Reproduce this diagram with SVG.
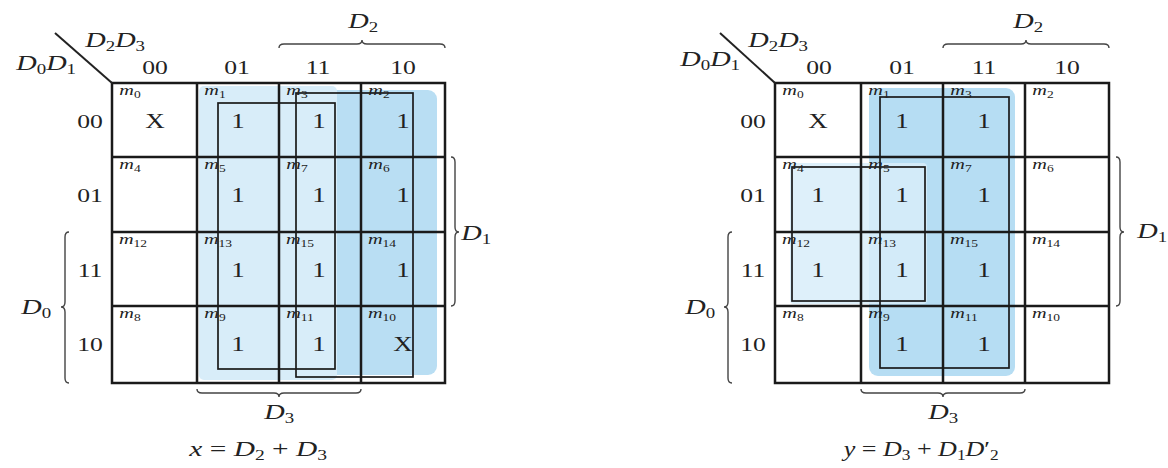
<svg xmlns="http://www.w3.org/2000/svg" width="1168" height="468" viewBox="0 0 1168 468">
<style>
text{fill:#222;font-family:"Liberation Serif","DejaVu Serif",serif;text-anchor:middle;transform-box:fill-box;transform-origin:center;transform:scaleX(1.35)}
.m{font-style:italic;font-size:15px}
.s{font-size:10px;font-style:normal}
.v{font-size:20px}
.h{font-size:19px}
.L{font-style:italic;font-size:21px}
.ls{font-size:14px;font-style:normal}
.eq{font-size:21px}
.grid{fill:none;stroke:#1a1a1a;stroke-width:2.5}
.loop{fill:none;stroke:#1a1a1a;stroke-width:1.7}
.br{fill:none;stroke:#444;stroke-width:1.4}
</style>
<rect width="1168" height="468" fill="#fff"/>

<!-- LEFT MAP -->
<g id="mapX">
<g id="mapX-shading">
<rect x="281" y="90" width="156" height="285" rx="9" fill="#b9def3"/>
<rect x="199" y="86" width="138" height="294" rx="5" fill="#d8edf9"/>
</g>
<g id="mapX-grid">
<rect class="grid" x="112" y="83" width="333" height="300"/>
<path class="grid" d="M197,83V383M279,83V383M361,83V383M112,157H445M112,232H445M112,306H445"/>
</g>
<g id="mapX-loops">
<rect class="loop" x="218" y="103" width="117" height="266"/>
<rect class="loop" x="296" y="93" width="117" height="284"/>
</g>
<g id="mapX-headers">
<line x1="55" y1="33" x2="112" y2="83" stroke="#222" stroke-width="2"/>
<text class="L" x="46" y="70">D<tspan class="ls" dy="4">0</tspan><tspan dy="-4">D</tspan><tspan class="ls" dy="4">1</tspan></text>
<text class="L" x="115" y="47">D<tspan class="ls" dy="4">2</tspan><tspan dy="-4">D</tspan><tspan class="ls" dy="4">3</tspan></text>
<text class="h" x="155" y="74">00</text>
<text class="h" x="237" y="74">01</text>
<text class="h" x="318" y="74">11</text>
<text class="h" x="403" y="74">10</text>
<text class="h" x="90" y="128">00</text>
<text class="h" x="90" y="202">01</text>
<text class="h" x="90" y="277">11</text>
<text class="h" x="90" y="351">10</text>
</g>
<g id="mapX-braces">
<path class="br" d="M279,48 Q279,44 284,44 L357,44 Q362,44 362,40 Q362,44 367,44 L440,44 Q445,44 445,48"/>
<text class="L" x="363" y="28">D<tspan class="ls" dy="4">2</tspan></text>
<path class="br" d="M451,157 Q455,157 455,162 L455,227 Q455,232 459,232 Q455,232 455,237 L455,301 Q455,306 451,306"/>
<text class="L" x="476" y="240">D<tspan class="ls" dy="4">1</tspan></text>
<path class="br" d="M69,232 Q65,232 65,237 L65,302 Q65,307 61,307 Q65,307 65,312 L65,378 Q65,383 69,383"/>
<text class="L" x="36" y="314">D<tspan class="ls" dy="4">0</tspan></text>
<path class="br" d="M197,389 Q197,393 202,393 L274,393 Q279,393 279,397 Q279,393 284,393 L356,393 Q361,393 361,389"/>
<text class="L" x="279" y="419">D<tspan class="ls" dy="4">3</tspan></text>
</g>
<g id="mapX-cells">
<text class="m" x="130" y="95">m<tspan class="s" dy="3">0</tspan></text>
<text class="m" x="215" y="95">m<tspan class="s" dy="3">1</tspan></text>
<text class="m" x="297" y="95">m<tspan class="s" dy="3">3</tspan></text>
<text class="m" x="379" y="95">m<tspan class="s" dy="3">2</tspan></text>
<text class="m" x="130" y="169">m<tspan class="s" dy="3">4</tspan></text>
<text class="m" x="215" y="169">m<tspan class="s" dy="3">5</tspan></text>
<text class="m" x="297" y="169">m<tspan class="s" dy="3">7</tspan></text>
<text class="m" x="379" y="169">m<tspan class="s" dy="3">6</tspan></text>
<text class="m" x="133" y="244">m<tspan class="s" dy="3">12</tspan></text>
<text class="m" x="218" y="244">m<tspan class="s" dy="3">13</tspan></text>
<text class="m" x="300" y="244">m<tspan class="s" dy="3">15</tspan></text>
<text class="m" x="382" y="244">m<tspan class="s" dy="3">14</tspan></text>
<text class="m" x="130" y="318">m<tspan class="s" dy="3">8</tspan></text>
<text class="m" x="215" y="318">m<tspan class="s" dy="3">9</tspan></text>
<text class="m" x="300" y="318">m<tspan class="s" dy="3">11</tspan></text>
<text class="m" x="382" y="318">m<tspan class="s" dy="3">10</tspan></text>
<text class="v" x="155" y="128">X</text>
<text class="v" x="238" y="128">1</text>
<text class="v" x="319" y="128">1</text>
<text class="v" x="403" y="128">1</text>
<text class="v" x="238" y="202">1</text>
<text class="v" x="319" y="202">1</text>
<text class="v" x="403" y="202">1</text>
<text class="v" x="238" y="277">1</text>
<text class="v" x="319" y="277">1</text>
<text class="v" x="403" y="277">1</text>
<text class="v" x="238" y="351">1</text>
<text class="v" x="319" y="351">1</text>
<text class="v" x="403" y="351">X</text>
</g>
<text class="eq" x="258" y="456" style="transform:scaleX(1.4)"><tspan font-style="italic">x</tspan> = <tspan font-style="italic">D</tspan><tspan font-size="14" dy="4">2</tspan><tspan dy="-4"> + </tspan><tspan font-style="italic">D</tspan><tspan font-size="14" dy="4">3</tspan></text>
</g>

<!-- RIGHT MAP -->
<g id="mapY">
<g id="mapY-shading">
<rect x="869" y="88" width="146" height="288" rx="9" fill="#b6ddf3"/>
<rect x="790" y="163" width="137" height="141" rx="4" fill="#d8edf9" fill-opacity="0.85"/>
</g>
<g id="mapY-grid">
<rect class="grid" x="775" y="83" width="334" height="300"/>
<path class="grid" d="M861,83V383M943,83V383M1025,83V383M775,157H1109M775,232H1109M775,306H1109"/>
</g>
<g id="mapY-loops">
<rect class="loop" x="880" y="97" width="129" height="271"/>
<rect class="loop" x="792" y="167" width="133" height="134"/>
</g>
<g id="mapY-headers">
<line x1="720" y1="33" x2="775" y2="83" stroke="#222" stroke-width="2"/>
<text class="L" x="710" y="66">D<tspan class="ls" dy="4">0</tspan><tspan dy="-4">D</tspan><tspan class="ls" dy="4">1</tspan></text>
<text class="L" x="778" y="47">D<tspan class="ls" dy="4">2</tspan><tspan dy="-4">D</tspan><tspan class="ls" dy="4">3</tspan></text>
<text class="h" x="819" y="74">00</text>
<text class="h" x="902" y="74">01</text>
<text class="h" x="984" y="74">11</text>
<text class="h" x="1067" y="74">10</text>
<text class="h" x="753" y="128">00</text>
<text class="h" x="753" y="202">01</text>
<text class="h" x="753" y="277">11</text>
<text class="h" x="753" y="351">10</text>
</g>
<g id="mapY-braces">
<path class="br" d="M943,48 Q943,44 948,44 L1021,44 Q1026,44 1026,40 Q1026,44 1031,44 L1104,44 Q1109,44 1109,48"/>
<text class="L" x="1028" y="28">D<tspan class="ls" dy="4">2</tspan></text>
<path class="br" d="M1116,157 Q1120,157 1120,162 L1120,227 Q1120,232 1124,232 Q1120,232 1120,237 L1120,301 Q1120,306 1116,306"/>
<text class="L" x="1152" y="238">D<tspan class="ls" dy="4">1</tspan></text>
<path class="br" d="M732,232 Q728,232 728,237 L728,302 Q728,307 724,307 Q728,307 728,312 L728,378 Q728,383 732,383"/>
<text class="L" x="700" y="314">D<tspan class="ls" dy="4">0</tspan></text>
<path class="br" d="M861,389 Q861,393 866,393 L938,393 Q943,393 943,397 Q943,393 948,393 L1020,393 Q1025,393 1025,389"/>
<text class="L" x="943" y="419">D<tspan class="ls" dy="4">3</tspan></text>
</g>
<g id="mapY-cells">
<text class="m" x="793" y="95">m<tspan class="s" dy="3">0</tspan></text>
<text class="m" x="879" y="95">m<tspan class="s" dy="3">1</tspan></text>
<text class="m" x="961" y="95">m<tspan class="s" dy="3">3</tspan></text>
<text class="m" x="1043" y="95">m<tspan class="s" dy="3">2</tspan></text>
<text class="m" x="793" y="169">m<tspan class="s" dy="3">4</tspan></text>
<text class="m" x="879" y="169">m<tspan class="s" dy="3">5</tspan></text>
<text class="m" x="961" y="169">m<tspan class="s" dy="3">7</tspan></text>
<text class="m" x="1043" y="169">m<tspan class="s" dy="3">6</tspan></text>
<text class="m" x="796" y="244">m<tspan class="s" dy="3">12</tspan></text>
<text class="m" x="882" y="244">m<tspan class="s" dy="3">13</tspan></text>
<text class="m" x="964" y="244">m<tspan class="s" dy="3">15</tspan></text>
<text class="m" x="1046" y="244">m<tspan class="s" dy="3">14</tspan></text>
<text class="m" x="793" y="318">m<tspan class="s" dy="3">8</tspan></text>
<text class="m" x="879" y="318">m<tspan class="s" dy="3">9</tspan></text>
<text class="m" x="964" y="318">m<tspan class="s" dy="3">11</tspan></text>
<text class="m" x="1046" y="318">m<tspan class="s" dy="3">10</tspan></text>
<text class="v" x="818" y="128">X</text>
<text class="v" x="902" y="128">1</text>
<text class="v" x="984" y="128">1</text>
<text class="v" x="818" y="202">1</text>
<text class="v" x="902" y="202">1</text>
<text class="v" x="984" y="202">1</text>
<text class="v" x="818" y="277">1</text>
<text class="v" x="902" y="277">1</text>
<text class="v" x="984" y="277">1</text>
<text class="v" x="902" y="351">1</text>
<text class="v" x="984" y="351">1</text>
</g>
<text class="eq" x="921" y="456" style="transform:scaleX(1.24)"><tspan font-style="italic">y</tspan> = <tspan font-style="italic">D</tspan><tspan font-size="14" dy="4">3</tspan><tspan dy="-4"> + </tspan><tspan font-style="italic">D</tspan><tspan font-size="14" dy="4">1</tspan><tspan dy="-4" font-style="italic">D</tspan>′<tspan font-size="14" dy="4">2</tspan></text>
</g>
</svg>
